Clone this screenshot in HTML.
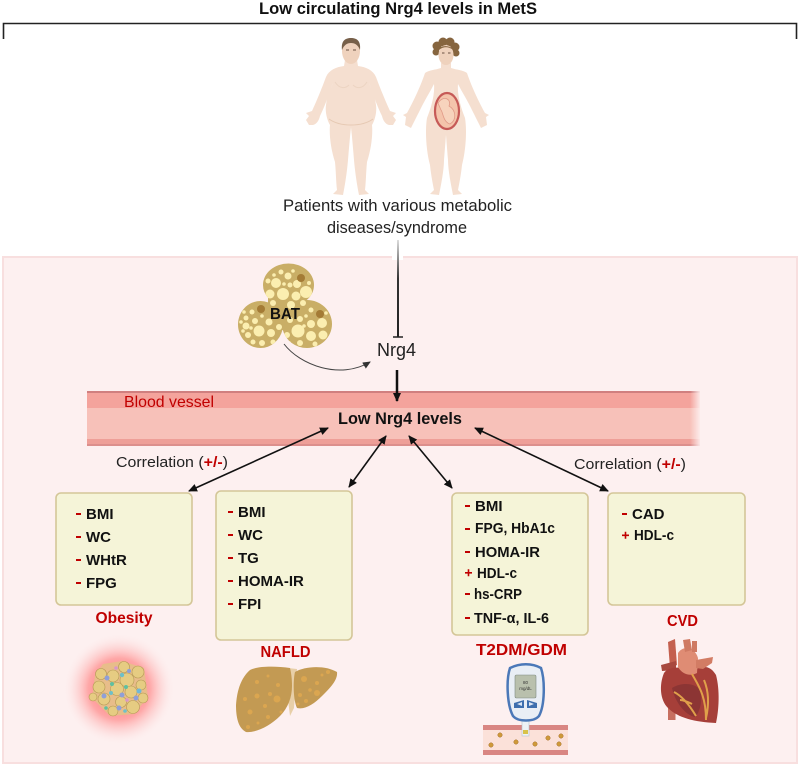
<!DOCTYPE html>
<html><head><meta charset="utf-8"><style>html,body{margin:0;padding:0;background:#fff}svg{display:block}text{font-family:"Liberation Sans",sans-serif}</style></head><body>
<svg width="800" height="766" viewBox="0 0 800 766" xmlns="http://www.w3.org/2000/svg">
<defs>
<marker id="a" markerWidth="9" markerHeight="8" refX="8" refY="4" orient="auto-start-reverse" markerUnits="userSpaceOnUse"><path d="M0,0L9,4L0,8Z" fill="#111"/></marker>
<marker id="b" markerWidth="8" markerHeight="7" refX="7" refY="3.5" orient="auto" markerUnits="userSpaceOnUse"><path d="M0,0L8,3.5L0,7Z" fill="#333"/></marker>
<linearGradient id="l" x1="0" y1="0" x2="0" y2="1"><stop offset="0" stop-color="#ddd"/><stop offset=".2" stop-color="#888"/><stop offset=".4" stop-color="#333"/><stop offset="1" stop-color="#222"/></linearGradient>
<radialGradient id="g"><stop offset="0" stop-color="#ff5a5a"/><stop offset=".55" stop-color="#ff8f8f" stop-opacity=".75"/><stop offset=".8" stop-color="#fdbcbc" stop-opacity=".3"/><stop offset="1" stop-color="#fdf0f0" stop-opacity="0"/></radialGradient>
<linearGradient id="fade" x1="0" x2="1"><stop offset="0" stop-color="#fdf0f0" stop-opacity="0"/><stop offset="1" stop-color="#fdf0f0"/></linearGradient>
<path id="man" d="M351.500,60L345,60L344,66C336,67 329,70 326,77C322,88 317,100 312,111L306,113L309,116L306,120L309,125L313,125C317,124 319,120 320,116C324,108 329,95 333,82C331,90 327,96 326,105C325,112 327,120 330,125C329,135 331,150 335,162C336,172 336,182 337,190L333,194L343,195C345,185 347,172 348,160C349,148 350,135 351.500,123Z"/>
<path id="wom" d="M446.500,63L441,63L441,68C435,70 429,70 425,73C420,88 412,104 407,113L403,115L406,117L405,125L411,128C414,122 418,114 422,106C426,98 430,92 434,84C435,95 431,108 427,118C425,130 426,150 430,165C431,175 433,185 434,190L430,194L439,195C441,185 444,170 444,160C445,148 446,135 446.500,128Z"/>
<clipPath id="batc"><ellipse cx="288.500" cy="285" rx="25.500" ry="21.500"/><ellipse cx="260.500" cy="324.500" rx="22.500" ry="23.500"/><ellipse cx="307" cy="324" rx="25" ry="24"/><rect x="268" y="295" width="30" height="35"/></clipPath>
</defs>
<rect width="800" height="766" fill="#fff"/>
<text x="398" y="14" font-size="17" font-weight="700" text-anchor="middle" textLength="278" lengthAdjust="spacingAndGlyphs" fill="#111">Low circulating Nrg4 levels in MetS</text>
<path d="M3.500,39V23.500H796.500V39" fill="none" stroke="#222" stroke-width="1.600"/>

<!-- people -->
<g fill="#f5dfd0">
<use href="#man"/><use href="#man" transform="translate(702,0) scale(-1,1)"/>
<use href="#wom"/><use href="#wom" transform="translate(892,0) scale(-1,1)"/>
</g>
<path d="M329,119C340,127 362,127 373,119" fill="none" stroke="#e6c9b3" stroke-width="1"/>
<path d="M335,82C340,90 346,88 349,85M367,82C362,90 356,88 353,85" fill="none" stroke="#ecd4c2" stroke-width="1"/>
<ellipse cx="351" cy="51" rx="9" ry="13" fill="#efd2bd"/>
<path d="M342,50C341,41 345,38 351,38C357,38 361,41 360,50C358,45 355,43 351,43C347,43 344,45 342,50Z" fill="#77604a"/>
<path d="M346,50h3M353,50h3" stroke="#6b5344" stroke-width="1"/>
<g fill="#86653f"><circle cx="437" cy="46" r="4.500"/><circle cx="443" cy="42" r="4.500"/><circle cx="450" cy="42" r="4.500"/><circle cx="455" cy="47" r="4.500"/><circle cx="436" cy="52" r="3.500"/><circle cx="456" cy="53" r="3.500"/></g>
<ellipse cx="446" cy="55" rx="7.500" ry="10" fill="#efd2bd"/>
<path d="M438,51C442,46 450,46 454,51C452,45 440,44 438,51Z" fill="#86653f"/>
<path d="M442,53h2.500M448,53h2.500" stroke="#6b5344" stroke-width=".9"/>
<ellipse cx="447" cy="111" rx="12" ry="18" fill="#f4c4ab" stroke="#c65a57" stroke-width="2.200"/>
<path d="M438,103C444,94 452,100 449,106C456,110 457,120 450,124C443,122 443,112 441,110Z" fill="#f7d3bd" stroke="#e09a88" stroke-width=".8"/>

<text x="397.500" y="211" font-size="17" text-anchor="middle" textLength="229" lengthAdjust="spacingAndGlyphs" fill="#222">Patients with various metabolic</text>
<text x="397" y="233" font-size="17" text-anchor="middle" textLength="140" lengthAdjust="spacingAndGlyphs" fill="#222">diseases/syndrome</text>

<!-- panel -->
<rect x="3" y="257" width="794" height="506" fill="#fdf0f0" stroke="#f8dfdf" stroke-width="2"/>
<rect x="392" y="255" width="11" height="5" fill="#fff"/>
<rect x="397" y="240" width="2" height="97" fill="url(#l)"/>
<path d="M393,337H403" stroke="#222" stroke-width="1.500"/>

<!-- vessel -->
<rect x="87" y="391" width="613" height="55" fill="#f7c1b9"/>
<rect x="87" y="391" width="613" height="17" fill="#f4a39c"/>
<rect x="87" y="439" width="613" height="7" fill="#ee9f98"/>
<rect x="87" y="391" width="613" height="2" fill="#d07f7f"/>
<rect x="87" y="444" width="613" height="2" fill="#dc8f8c"/>
<rect x="690" y="389" width="11" height="59" fill="url(#fade)"/>
<text x="124" y="407" font-size="16" textLength="90" lengthAdjust="spacingAndGlyphs" fill="#c00000">Blood vessel</text>
<text x="400" y="424" font-size="16.500" font-weight="700" text-anchor="middle" textLength="124" lengthAdjust="spacingAndGlyphs" fill="#111">Low Nrg4 levels</text>

<!-- BAT -->
<g clip-path="url(#batc)">
<rect x="236" y="262" width="98" height="88" fill="#c9ae66"/>
<g fill="#fbeeb0">
<circle cx="276" cy="283" r="5"/><circle cx="288" cy="276" r="3.500"/><circle cx="297" cy="284" r="4"/><circle cx="281" cy="272" r="2.500"/><circle cx="270" cy="294" r="4.500"/><circle cx="283" cy="294" r="6"/><circle cx="296" cy="296" r="4.500"/><circle cx="306" cy="292" r="6"/><circle cx="273" cy="303" r="3"/><circle cx="291" cy="305" r="4"/><circle cx="303" cy="303" r="3"/><circle cx="290" cy="285" r="2.500"/><circle cx="309" cy="283" r="2"/><circle cx="268" cy="281" r="2.500"/><circle cx="274" cy="275" r="1.800"/><circle cx="293" cy="271" r="1.800"/><circle cx="284" cy="284" r="1.800"/>
<circle cx="246" cy="318" r="2.500"/><circle cx="252" cy="312" r="2.500"/><circle cx="246" cy="326" r="3.500"/><circle cx="255" cy="321" r="3"/><circle cx="259" cy="331" r="5.500"/><circle cx="248" cy="335" r="3"/><circle cx="269" cy="322" r="3.500"/><circle cx="271" cy="333" r="4"/><circle cx="262" cy="343" r="3"/><circle cx="273" cy="342" r="2.500"/><circle cx="279" cy="327" r="3"/><circle cx="253" cy="342" r="2.500"/><circle cx="244" cy="312" r="1.800"/><circle cx="262" cy="316" r="1.800"/><circle cx="251" cy="328" r="1.800"/><circle cx="241" cy="322" r="1.800"/><circle cx="243" cy="331" r="1.800"/>
<circle cx="298" cy="331" r="6.500"/><circle cx="290" cy="320" r="3"/><circle cx="300" cy="319" r="3"/><circle cx="311" cy="324" r="4"/><circle cx="322" cy="323" r="5"/><circle cx="311" cy="336" r="5"/><circle cx="323" cy="335" r="4.500"/><circle cx="287" cy="335" r="3"/><circle cx="300" cy="343" r="3"/><circle cx="315" cy="344" r="2.500"/><circle cx="311" cy="310" r="2.500"/><circle cx="306" cy="316" r="1.800"/><circle cx="289" cy="343" r="2"/><circle cx="326" cy="313" r="1.800"/><circle cx="304" cy="326" r="1.800"/>
</g>
<circle cx="301" cy="278" r="4" fill="#a47b35"/><circle cx="261" cy="309" r="4" fill="#a47b35"/><circle cx="320" cy="314" r="4" fill="#a47b35"/>
</g>
<text x="285" y="319" font-size="16" font-weight="700" text-anchor="middle" textLength="30" lengthAdjust="spacingAndGlyphs" fill="#111">BAT</text>
<path d="M284,344C300,365 340,380 370,362" fill="none" stroke="#444" stroke-width="1" marker-end="url(#b)"/>

<text x="396.500" y="356" font-size="18" text-anchor="middle" textLength="39" lengthAdjust="spacingAndGlyphs" fill="#222">Nrg4</text>
<path d="M397,370V401" stroke="#111" stroke-width="2.500" marker-end="url(#a)"/>

<!-- arrows -->
<g stroke="#111" stroke-width="1.600" fill="none">
<path d="M328,428L189,491" marker-start="url(#a)" marker-end="url(#a)"/>
<path d="M386,436L349,487" marker-start="url(#a)" marker-end="url(#a)"/>
<path d="M409,436L452,488" marker-start="url(#a)" marker-end="url(#a)"/>
<path d="M475,428L608,491" marker-start="url(#a)" marker-end="url(#a)"/>
</g>
<text x="116" y="467" font-size="15" textLength="112" lengthAdjust="spacingAndGlyphs" fill="#222">Correlation (<tspan fill="#c00000" font-weight="700">+/-</tspan>)</text>
<text x="574" y="469" font-size="15" textLength="112" lengthAdjust="spacingAndGlyphs" fill="#222">Correlation (<tspan fill="#c00000" font-weight="700">+/-</tspan>)</text>

<!-- boxes -->
<g fill="#f5f4d8" stroke="#d4c698" stroke-width="1.600">
<rect x="56" y="493" width="136" height="112" rx="5"/>
<rect x="216" y="491" width="136" height="149" rx="5"/>
<rect x="452" y="493" width="136" height="142" rx="5"/>
<rect x="608" y="493" width="137" height="112" rx="5"/>
</g>
<g font-size="15" font-weight="700" fill="#111">
<text x="86" y="519">BMI</text><text x="86" y="542">WC</text><text x="86" y="565">WHtR</text><text x="86" y="588">FPG</text>
<text x="238" y="517">BMI</text><text x="238" y="540">WC</text><text x="238" y="563">TG</text><text x="238" y="586">HOMA-IR</text><text x="238" y="609">FPI</text>
<text x="475" y="511">BMI</text><text x="475" y="533" textLength="80" lengthAdjust="spacingAndGlyphs">FPG, HbA1c</text><text x="475" y="557" textLength="65" lengthAdjust="spacingAndGlyphs">HOMA-IR</text><text x="477" y="578" textLength="40" lengthAdjust="spacingAndGlyphs">HDL-c</text><text x="474" y="599" textLength="48" lengthAdjust="spacingAndGlyphs">hs-CRP</text><text x="474" y="623" textLength="75" lengthAdjust="spacingAndGlyphs">TNF-α, IL-6</text>
<text x="632" y="519">CAD</text><text x="634" y="540" textLength="40" lengthAdjust="spacingAndGlyphs">HDL-c</text>
</g>
<g fill="#c00000">
<rect x="76" y="513" width="5" height="2"/><rect x="76" y="536" width="5" height="2"/><rect x="76" y="559" width="5" height="2"/><rect x="76" y="582" width="5" height="2"/>
<rect x="228" y="511" width="5" height="2"/><rect x="228" y="534" width="5" height="2"/><rect x="228" y="557" width="5" height="2"/><rect x="228" y="580" width="5" height="2"/><rect x="228" y="603" width="5" height="2"/>
<rect x="465" y="505" width="5" height="2"/><rect x="465" y="528" width="5" height="2"/><rect x="465" y="551" width="5" height="2"/><rect x="465" y="593" width="5" height="2"/><rect x="465" y="617" width="5" height="2"/>
<rect x="622" y="513" width="5" height="2"/>
<path d="M465,572h7v1.600h-7zM467.700,569.300h1.600v7h-1.600zM622,534.500h7v1.600h-7zM624.700,531.800h1.600v7h-1.600z"/>
</g>
<g font-size="16" font-weight="700" fill="#c00000" text-anchor="middle">
<text x="124" y="623" textLength="57" lengthAdjust="spacingAndGlyphs">Obesity</text>
<text x="285.500" y="657" textLength="50" lengthAdjust="spacingAndGlyphs">NAFLD</text>
<text x="521.500" y="655" textLength="91" lengthAdjust="spacingAndGlyphs">T2DM/GDM</text>
<text x="682.500" y="626" textLength="31" lengthAdjust="spacingAndGlyphs">CVD</text>
</g>

<!-- obesity -->
<circle cx="119" cy="689" r="56" fill="url(#g)"/>
<path d="M103,664L122,661L144,668L148,697L134,714L110,716L92,698L95,675Z" fill="#e8bd8a"/>
<g fill="#e6cc82" stroke="#b59a55" stroke-width=".6">
<circle cx="101" cy="674" r="5.500"/><circle cx="124" cy="667" r="5.500"/><circle cx="138" cy="672" r="6"/><circle cx="113" cy="676" r="6"/><circle cx="127" cy="680" r="7"/><circle cx="99" cy="687" r="6"/><circle cx="117" cy="689" r="6.500"/><circle cx="131" cy="692" r="6"/><circle cx="141" cy="685" r="5"/><circle cx="104" cy="699" r="6"/><circle cx="121" cy="702" r="5.500"/><circle cx="143" cy="698" r="5"/><circle cx="133" cy="707" r="6.500"/><circle cx="113" cy="711" r="5"/><circle cx="93" cy="697" r="4"/>
</g>
<g>
<circle cx="107" cy="678" r="2.500" fill="#8f9fd8"/><circle cx="122" cy="675" r="2.200" fill="#6fc0c8"/><circle cx="112" cy="684" r="2" fill="#5fc0a0"/><circle cx="126" cy="687" r="2" fill="#5fc0a0"/><circle cx="129" cy="671" r="2" fill="#8f9fd8"/><circle cx="139" cy="691" r="2.500" fill="#6fb8d8"/><circle cx="104" cy="696" r="2.500" fill="#8f9fd8"/><circle cx="111" cy="693" r="2" fill="#6fc0c8"/><circle cx="122" cy="695" r="2.500" fill="#8f9fd8"/><circle cx="136" cy="698" r="2.500" fill="#8f9fd8"/><circle cx="127" cy="700" r="1.800" fill="#d898c8"/><circle cx="119" cy="708" r="2.500" fill="#8f9fd8"/><circle cx="106" cy="708" r="1.800" fill="#5fc0a0"/><circle cx="125" cy="711" r="1.800" fill="#6fc0c8"/><circle cx="116" cy="668" r="1.800" fill="#d898c8"/>
</g>

<!-- liver -->
<path d="M288,668L297,669L294,708L290,716L288,700Z" fill="#e8cfa8"/>
<path d="M290,668C275,666 258,666 250,670C241,678 237,690 236,705C236,717 238,728 246,732C256,733 270,726 280,716C288,708 292,697 292,686C292,678 291,672 290,668Z" fill="#c39a53"/>
<path d="M295,672C305,666 325,665 337,672C338,680 330,688 322,696C314,704 305,710 297,708C293,700 293,680 295,672Z" fill="#c39a53"/>
<g fill="#dba650">
<circle cx="257" cy="682" r="2"/><circle cx="268" cy="676" r="1.500"/><circle cx="278" cy="685" r="2"/><circle cx="257" cy="696" r="2.500"/><circle cx="270" cy="694" r="2"/><circle cx="277" cy="699" r="3.500"/><circle cx="245" cy="699" r="2"/><circle cx="265" cy="706" r="2"/><circle cx="250" cy="712" r="2.500"/><circle cx="281" cy="712" r="1.500"/><circle cx="268" cy="717" r="2"/><circle cx="248" cy="727" r="2"/><circle cx="258" cy="723" r="1.500"/><circle cx="304" cy="679" r="3"/><circle cx="317" cy="683" r="2"/><circle cx="328" cy="672" r="2"/><circle cx="310" cy="690" r="1.800"/><circle cx="317" cy="693" r="3"/><circle cx="300" cy="695" r="2"/><circle cx="306" cy="701" r="2"/><circle cx="298" cy="704" r="1.500"/><circle cx="322" cy="675" r="1.500"/>
</g>

<!-- glucometer -->
<rect x="483" y="725" width="85" height="30" fill="#fbe1d9"/>
<rect x="483" y="725" width="85" height="5" fill="#d98683"/><rect x="483" y="750" width="85" height="5" fill="#d98683"/>
<g fill="#cf9a3a" stroke="#a5702a" stroke-width=".5"><circle cx="500" cy="735" r="2.200"/><circle cx="516" cy="742" r="2.200"/><circle cx="535" cy="744" r="2.200"/><circle cx="548" cy="738" r="2.200"/><circle cx="561" cy="736" r="2.200"/><circle cx="559" cy="744" r="2.200"/><circle cx="491" cy="745" r="2.200"/></g>
<rect x="522" y="715" width="7" height="21" fill="#eef2f6" stroke="#b6c2d0" stroke-width=".6"/><rect x="523" y="730" width="5" height="4" fill="#d8c34a"/>
<path d="M510,668C520,663 532,663 541,668C545,680 545,705 539,716C534,722 518,722 513,716C507,705 506,680 510,668Z" fill="#e9eef5" stroke="#4b78b8" stroke-width="2.500"/>
<rect x="515" y="675" width="21" height="23" rx="1.500" fill="#b9c0ad" stroke="#7f8a82" stroke-width=".6"/>
<text x="525.500" y="684" font-size="4.500" text-anchor="middle" fill="#333">80</text>
<text x="525.500" y="690" font-size="4.500" text-anchor="middle" fill="#333">mg/dL</text>
<path d="M514,703L524,700V708L514,708ZM527,700L537,703V708H527Z" fill="#3e6fae"/>
<path d="M517,704L522,702V706ZM534,704L529,702V706Z" fill="#dbe6f4"/>

<!-- heart -->
<path d="M668,642L675,639L677,665L670,668Z" fill="#c4604f"/>
<path d="M676,661L661,665L662,671L676,670Z" fill="#a8493f"/>
<rect x="668" y="705" width="7.500" height="15" fill="#c76f60"/>
<path d="M664,673C659,685 660,700 668,708C678,718 695,722 716,723C719,710 720,690 716,675C712,668 706,665 698,668C690,672 672,662 664,673Z" fill="#a63f39"/>
<path d="M672,688C682,682 695,683 700,690C703,700 700,712 695,717C685,715 675,702 672,688Z" fill="#8c3534"/>
<path d="M678,667L678,653C683,645 695,647 698,658L697,673C690,677 682,674 678,667Z" fill="#df8c74"/>
<path d="M683,640L690,639L692,650L685,652ZM692,641L697,641L697,652L692,652Z" fill="#cf7a63"/>
<path d="M696,660L713,657L712,663L703,669L696,668Z" fill="#d27c64"/>
<path d="M692,674C698,685 706,695 706,720M704,680C709,692 709,705 706,718M674,692C682,696 690,706 696,716M680,700C684,700 688,702 692,704" fill="none" stroke="#e0a04a" stroke-width="2"/>
</svg>
</body></html>
